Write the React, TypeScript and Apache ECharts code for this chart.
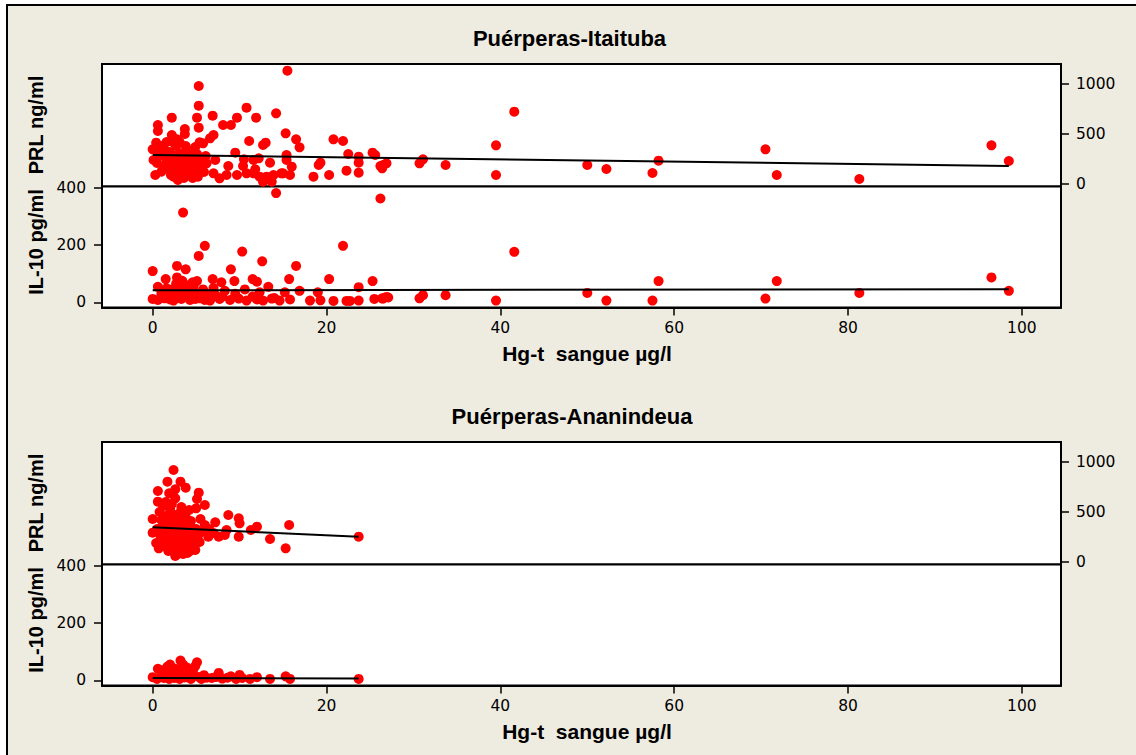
import React, { useEffect, useRef } from "react";
import * as echarts from "echarts";

// ---------- data ----------
const xTicks = [0, 20, 40, 60, 80, 100];
const ilTicks = [0, 200, 400];
const prlTicks = [0, 500, 1000];

const panelTitles = ["Puérperas-Itaituba", "Puérperas-Ananindeua"];
const xName = "Hg-t  sangue µg/l";
const prlName = "PRL ng/ml";
const ilName = "IL-10 pg/ml";

// Itaituba: PRL (ng/ml) vs Hg-t
const itaPRL: number[][] = [
  [15.5, 1133], [5.3, 980], [5.3, 783], [2.2, 663], [5.1, 663], [0.6, 590], [0.6, 530], [6.9, 683],
  [10.8, 763], [9.7, 663], [11.9, 663], [14.2, 707], [8.1, 590], [9.0, 590], [5.3, 563], [3.7, 550],
  [3.7, 500], [2.2, 490], [2.8, 447], [2.2, 423], [7.0, 490], [6.6, 457], [5.4, 417], [5.8, 407],
  [0.4, 413], [0.3, 347], [11.1, 430], [12.7, 390], [13.0, 413], [15.3, 507], [16.5, 447], [16.9, 367],
  [20.8, 447], [21.9, 430], [22.5, 300], [23.7, 273], [23.7, 213], [22.3, 133], [23.7, 113], [25.3, 313],
  [25.6, 290], [26.2, 180], [26.5, 190], [20.3, 90], [18.5, 73], [19.1, 190], [19.3, 213], [15.8, 90],
  [16.0, 173], [15.4, 240], [15.4, 290], [15.0, 107], [0.1, 240], [0, 347], [0.3, 90], [1.0, 123],
  [1.4, 340], [2.0, 240], [2.4, 73], [2.9, 40], [3.5, 73], [4.3, 173], [4.7, 307], [3.9, 340],
  [3.1, 307], [5.2, 73], [6.2, 207], [7.2, 240], [7.0, 107], [7.7, 57], [8.7, 180], [8.5, 90],
  [9.5, 313], [9.7, 90], [10.5, 247], [10.4, 180], [11.6, 240], [11.8, 147], [12.2, 257], [12.3, 73],
  [13.5, 213], [13.1, 73], [13.9, 90], [14.8, 107], [13.7, 23], [12.7, 23], [11.6, 107], [10.8, 107],
  [1.2, 280], [1.5, 200], [1.8, 150], [2.0, 320], [2.3, 260], [2.5, 180], [2.6, 120], [2.7, 380],
  [2.9, 220], [3.0, 160], [3.2, 260], [3.3, 100], [3.4, 200], [3.5, 300], [3.6, 140], [3.7, 240],
  [3.8, 380], [3.9, 180], [4.0, 280], [4.1, 110], [4.2, 220], [4.3, 330], [4.4, 160], [4.5, 260],
  [4.6, 60], [4.7, 200], [4.8, 130], [5.0, 240], [5.1, 300], [5.3, 180], [5.5, 150], [5.7, 230],
  [5.9, 120], [6.1, 280], [1.0, 380], [1.6, 420], [2.1, 90], [3.1, 420], [3.6, 60], [4.9, 370],
  [0.8, 300], [1.3, 170], [0.5, 210],
  [41.6, 723], [39.5, 387], [39.5, 90], [33.7, 190], [30.7, 207], [31.1, 247], [26.9, 207], [26.4, 157],
  [50.0, 190], [52.2, 150], [57.5, 110], [58.2, 233], [70.5, 347], [71.8, 90], [81.3, 50], [96.5, 387],
  [98.5, 230],
];

// Itaituba: IL-10 (pg/ml) vs Hg-t
const itaIL: number[][] = [
  [14.2, 381], [3.5, 313], [26.2, 362], [6.0, 197], [5.3, 162], [21.9, 197], [10.3, 177], [12.6, 143],
  [16.5, 127], [0, 109], [2.8, 127], [3.8, 115], [9.0, 115], [1.5, 81], [2.8, 87], [5.1, 74],
  [6.9, 81], [7.9, 70], [9.4, 74], [11.5, 81], [12.0, 72], [15.7, 81], [16.9, 40], [20.3, 81],
  [19.0, 35], [23.7, 53], [25.3, 74], [13.3, 54], [15.2, 35], [0.6, 54], [1.6, 49],
  [0, 12], [0.6, 8], [1.4, 14], [2.4, 6], [3.3, 12], [4.3, 8], [5.4, 14], [6.6, 6], [7.7, 12],
  [8.9, 8], [9.9, 13], [10.8, 6], [12.0, 10], [12.7, 6], [13.7, 13], [14.6, 6], [15.8, 10],
  [18.1, 6], [19.3, 7], [20.8, 5], [22.3, 5], [22.7, 5], [23.7, 6], [25.5, 12], [26.5, 13], [27.1, 17],
  [1.0, 30], [1.8, 20], [2.2, 45], [2.5, 25], [3.0, 55], [3.2, 35], [3.6, 20], [3.9, 60], [4.1, 40],
  [4.4, 25], [4.7, 55], [5.0, 30], [5.5, 20], [5.8, 45], [6.3, 30], [7.2, 25], [8.3, 40], [2.7, 65],
  [3.4, 75], [4.6, 70], [1.3, 15], [2.0, 10], [4.9, 12], [6.0, 8], [7.0, 50], [8.0, 20], [9.5, 30],
  [10.6, 45], [11.5, 20], [12.3, 35], [14.0, 15],
  [41.6, 176], [39.5, 6], [33.7, 25], [30.7, 14], [31.1, 25], [26.9, 19], [26.4, 14], [50.0, 33],
  [52.2, 6], [57.5, 6], [58.2, 74], [70.5, 13], [71.8, 74], [81.3, 33], [96.5, 87], [98.5, 40],
];

// Ananindeua: PRL vs Hg-t
const anaPRL: number[][] = [
  [2.4, 920], [1.7, 803], [3.2, 803], [3.8, 743], [0.6, 710], [1.9, 687], [2.6, 727], [2.6, 637],
  [5.3, 693], [5.1, 630], [6.0, 570], [5.0, 537], [0.6, 603], [0, 430], [0, 293], [8.7, 470],
  [9.9, 437], [10.0, 387], [7.2, 397], [6.0, 370], [12.0, 353], [11.3, 320], [15.7, 370], [23.7, 253],
  [13.5, 230], [15.3, 137], [9.9, 253], [8.5, 320], [8.3, 270], [7.6, 253], [6.4, 253], [4.9, 120],
  [2.6, 60], [3.5, 80], [0.7, 137],
  [0.8, 500], [1.0, 420], [1.1, 350], [1.2, 280], [1.3, 210], [1.4, 160], [1.5, 460], [1.6, 380],
  [1.7, 300], [1.8, 240], [1.9, 180], [2.0, 530], [2.1, 430], [2.2, 340], [2.3, 270], [2.4, 200],
  [2.5, 140], [2.6, 470], [2.7, 390], [2.8, 310], [2.9, 230], [3.0, 170], [3.1, 100], [3.2, 500],
  [3.3, 420], [3.4, 350], [3.5, 280], [3.6, 210], [3.7, 150], [3.8, 450], [3.9, 380], [4.0, 300],
  [4.1, 240], [4.2, 180], [4.3, 110], [4.4, 410], [4.5, 340], [4.6, 270], [4.7, 200], [4.8, 150],
  [5.0, 330], [5.2, 260], [5.4, 200], [5.6, 300], [1.2, 560], [1.5, 600], [2.2, 580], [0.9, 260],
  [0.5, 330], [0.4, 190], [3.3, 550], [4.2, 520], [5.5, 430], [6.5, 330], [7.0, 290], [1.8, 110],
  [2.9, 80], [4.0, 90],
];

// Ananindeua: IL-10 vs Hg-t
const anaIL: number[][] = [
  [3.2, 69], [5.1, 63], [1.7, 48], [0.6, 40], [2.6, 40], [4.7, 40], [7.6, 26], [10.0, 19], [12.0, 11],
  [15.3, 14], [15.8, 5], [13.5, 5], [23.7, 5], [11.2, 5], [8.6, 9], [6.2, 9], [0, 11],
  [0.5, 5], [1.0, 15], [1.3, 8], [1.6, 25], [1.9, 5], [2.1, 18], [2.3, 30], [2.5, 8], [2.8, 15],
  [3.0, 35], [3.1, 5], [3.4, 22], [3.7, 10], [3.9, 45], [4.2, 15], [4.4, 5], [4.6, 28], [4.9, 50],
  [5.3, 12], [5.6, 5], [5.9, 18], [6.8, 8], [7.3, 12], [8.0, 6], [9.0, 14], [9.6, 5], [10.3, 8],
  [2.0, 55], [3.5, 55], [4.3, 35], [1.1, 35],
];

// fitted regression lines (end points)
const itaPRLFit = [[0, 290], [98.5, 180]];
const itaILFit = [[0, 42], [98.5, 46]];
const anaPRLFit = [[0, 347], [23.7, 253]];
const anaILFit = [[0, 8], [23.7, 6]];

// ---------- layout / style ----------
const BG = "#EEEBE0";
const TICK_FONT = "'DejaVu Sans', Verdana, sans-serif";
const BOLD_FONT = "'Liberation Sans', Arial, sans-serif";
const X_MIN = -5.83;
const X_MAX = 104.5;
const PANEL_TOPS = [64, 442];
const PRL_H = 122.5;
const IL_H = 121;
const PANEL_OFFSET = 378;

const plain = (v: number) => String(v);

export default function App() {
  const ref = useRef<HTMLDivElement>(null);

  useEffect(() => {
    if (!ref.current) return;
    const chart = echarts.init(ref.current, undefined, { renderer: "svg" });

    const panels = [
      { prl: itaPRL, il: itaIL, prlFit: itaPRLFit, ilFit: itaILFit },
      { prl: anaPRL, il: anaIL, prlFit: anaPRLFit, ilFit: anaILFit },
    ];

    const grid: any[] = [];
    const xAxis: any[] = [];
    const yAxis: any[] = [];
    const series: any[] = [];

    const gridBase = {
      left: 102,
      right: 75,
      show: true,
      backgroundColor: "#ffffff",
      borderColor: "#000000",
      borderWidth: 2,
      containLabel: false,
    };

    const labelBase = { fontSize: 15.5, color: "#000", fontFamily: TICK_FONT, formatter: plain };
    const tickBase = { show: true, length: 8, lineStyle: { color: "#000", width: 1.5 } };
    const lineBase = { show: true, onZero: false, lineStyle: { color: "#000", width: 2 } };

    panels.forEach((p, i) => {
      const top = PANEL_TOPS[i];
      const gPrl = grid.length;
      grid.push({ ...gridBase, top, height: PRL_H });
      const gIl = grid.length;
      grid.push({ ...gridBase, top: top + PRL_H, height: IL_H });

      xAxis.push({
        type: "value", gridIndex: gPrl, min: X_MIN, max: X_MAX, show: false,
        splitLine: { show: false },
      });
      xAxis.push({
        type: "value", gridIndex: gIl, min: X_MIN, max: X_MAX, position: "bottom",
        splitLine: { show: false },
        axisLine: lineBase,
        axisTick: { ...tickBase, customValues: xTicks },
        axisLabel: { ...labelBase, customValues: xTicks, margin: 12 },
      });

      yAxis.push({
        type: "value", gridIndex: gPrl, min: -25, max: 1200, position: "right",
        splitLine: { show: false },
        axisLine: lineBase,
        axisTick: { ...tickBase, customValues: prlTicks },
        axisLabel: { ...labelBase, customValues: prlTicks, margin: 15 },
      });
      yAxis.push({
        type: "value", gridIndex: gIl, min: -18, max: 404, position: "left",
        splitLine: { show: false },
        axisLine: lineBase,
        axisTick: { ...tickBase, customValues: ilTicks },
        axisLabel: { ...labelBase, customValues: ilTicks, margin: 16 },
      });

      const xPrl = xAxis.length - 2;
      const xIl = xAxis.length - 1;
      const yPrl = yAxis.length - 2;
      const yIl = yAxis.length - 1;

      const scatterStyle = { color: "#FF0000", opacity: 1 };
      series.push({
        type: "scatter", xAxisIndex: xPrl, yAxisIndex: yPrl, data: p.prl,
        symbol: "circle", symbolSize: 10, itemStyle: scatterStyle, z: 2,
      });
      series.push({
        type: "scatter", xAxisIndex: xIl, yAxisIndex: yIl, data: p.il,
        symbol: "circle", symbolSize: 10, itemStyle: scatterStyle, z: 2,
      });
      series.push({
        type: "line", xAxisIndex: xPrl, yAxisIndex: yPrl, data: p.prlFit,
        showSymbol: false, symbol: "none", lineStyle: { color: "#000", width: 2 }, z: 3,
      });
      series.push({
        type: "line", xAxisIndex: xIl, yAxisIndex: yIl, data: p.ilFit,
        showSymbol: false, symbol: "none", lineStyle: { color: "#000", width: 2 }, z: 3,
      });
    });

    const texts: any[] = [];
    panelTitles.forEach((t, i) => {
      const off = i * PANEL_OFFSET;
      texts.push({
        type: "text", x: i === 0 ? 569.5 : 572, y: 38 + off,
        style: { text: t, font: `bold 22px ${BOLD_FONT}`, fill: "#000", align: "center", verticalAlign: "middle" },
      });
      texts.push({
        type: "text", x: 587, y: 353 + off,
        style: { text: xName, font: `bold 21px ${BOLD_FONT}`, fill: "#000", align: "center", verticalAlign: "middle" },
      });
      texts.push({
        type: "text", x: 36, y: 125 + off, rotation: Math.PI / 2,
        style: { text: prlName, font: `bold 20px ${BOLD_FONT}`, fill: "#000", align: "center", verticalAlign: "middle" },
      });
      texts.push({
        type: "text", x: 36, y: 242 + off, rotation: Math.PI / 2,
        style: { text: ilName, font: `bold 20px ${BOLD_FONT}`, fill: "#000", align: "center", verticalAlign: "middle" },
      });
    });

    chart.setOption({
      animation: false,
      backgroundColor: "#ffffff",
      grid,
      xAxis,
      yAxis,
      series,
      graphic: [
        {
          type: "rect", z: -100, silent: true,
          shape: { x: 7, y: 5, width: 1140, height: 760 },
          style: { fill: BG, stroke: "#000", lineWidth: 2 },
        },
        ...texts,
      ],
    });

    return () => chart.dispose();
  }, []);

  return (
    <div
      ref={ref}
      style={{ position: "fixed", left: 0, top: 0, width: 1136, height: 755 }}
    />
  );
}
